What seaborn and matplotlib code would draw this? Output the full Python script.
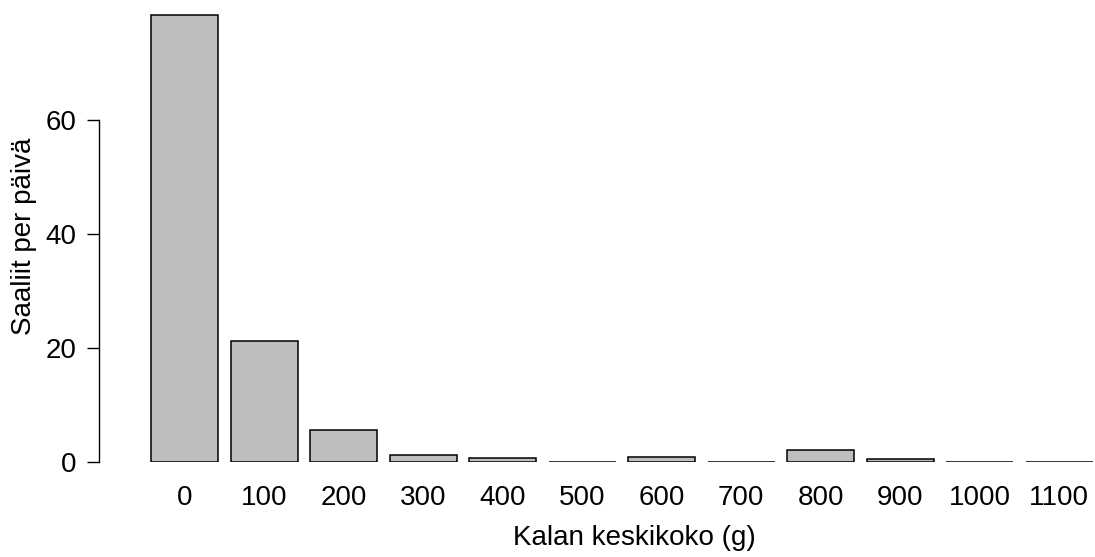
import matplotlib
matplotlib.use("Agg")
import matplotlib.pyplot as plt
import seaborn as sns
import pandas as pd

categories = ["0", "100", "200", "300", "400", "500", "600", "700", "800", "900", "1000", "1100"]
catch_per_day = [78.4, 21.3, 5.6, 1.3, 0.7, 0.0, 0.9, 0.0, 2.2, 0.6, 0.0, 0.0]
y_ticks = [0, 20, 40, 60]

sns.set_theme(style="white")
plt.rcParams["font.family"] = ["Liberation Sans", "DejaVu Sans"]

df = pd.DataFrame({"size": categories, "catch": catch_per_day})

W, H = 1095, 557
fig = plt.figure(figsize=(W / 100, H / 100), dpi=100)
ax_left, ax_right, ax_bottom_px = 99, 1095, 462.3
ax = fig.add_axes([ax_left / W, (H - ax_bottom_px) / H, (ax_right - ax_left) / W, ax_bottom_px / H])

sns.barplot(data=df, x="size", y="catch", order=categories, color="#BEBEBE",
            saturation=1, edgecolor="black", linewidth=1.1, width=0.84, ax=ax)

ax.set_xlim(-1.078, 11.45)
ax.set_ylim(0, ax_bottom_px / 5.7)

for s in ["top", "right", "bottom"]:
    ax.spines[s].set_visible(False)
ax.spines["left"].set_bounds(0, 60)
ax.spines["left"].set_color("black")
ax.spines["left"].set_linewidth(1.0)

fs = 20
ax.set_yticks(y_ticks)
ax.set_yticklabels([str(t) for t in y_ticks])
ax.tick_params(axis="y", left=True, length=8.6, width=1.0, pad=7.9, labelsize=fs, colors="black")
ax.tick_params(axis="x", bottom=False, length=0, pad=16, labelsize=fs, colors="black")

ax.set_xlabel("Kalan keskikoko (g)", fontsize=fs, color="black")
ax.set_ylabel("Saaliit per päivä", fontsize=fs, color="black")
ax.xaxis.set_label_coords(0.538, -0.136)
ax.yaxis.set_label_coords(-0.062, 0.488)
ax.grid(False)

fig.savefig("out.png", dpi=100)
